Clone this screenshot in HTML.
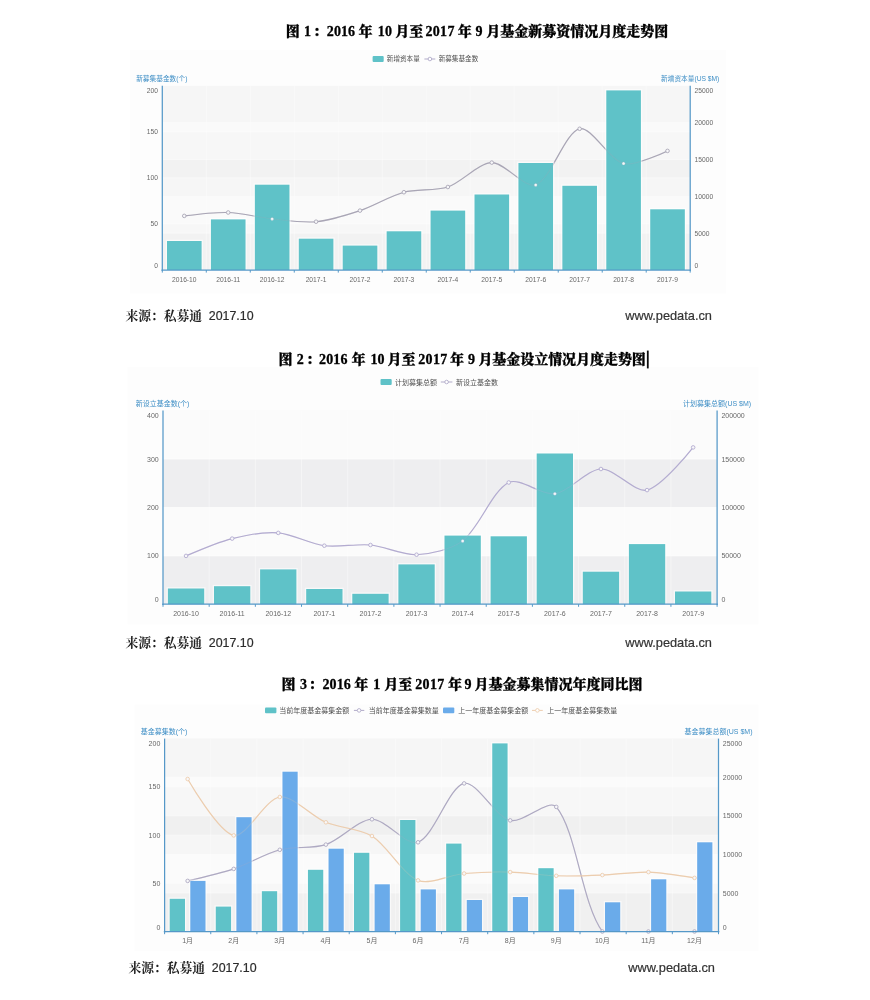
<!DOCTYPE html>
<html lang="zh-CN"><head><meta charset="utf-8"><title>基金募资情况走势图</title>
<style>
html,body{margin:0;padding:0;background:#fff;}
svg{display:block}
.ct{font-family:"Liberation Sans","Noto Sans CJK SC",sans-serif;}
.tt{font-family:"Liberation Serif","Noto Serif CJK SC",serif;font-weight:900;font-size:14px;fill:#000;stroke:#000;stroke-width:0.3px;white-space:pre;}
.ft{font-size:12.5px;fill:#222;}
.fc{font-family:"Liberation Serif","Noto Serif CJK SC",serif;font-weight:700;font-size:12.75px;}
.fl{font-family:"Liberation Sans","Noto Sans CJK SC",sans-serif;font-size:12.4px;fill:#2a2a2a;stroke:#2a2a2a;stroke-width:0.2px;}
.fw{font-family:"Liberation Sans","Noto Sans CJK SC",sans-serif;font-size:12.8px;fill:#333;stroke:#333;stroke-width:0.2px;}
</style></head><body>
<svg width="870" height="1000" viewBox="0 0 870 1000">
<defs><filter id="b" x="-2%" y="-2%" width="104%" height="104%"><feGaussianBlur stdDeviation="0.7"/></filter><filter id="b2" x="-2%" y="-2%" width="104%" height="104%"><feGaussianBlur stdDeviation="0.4"/></filter></defs>
<rect width="870" height="1000" fill="#fff"/>
<g filter="url(#b)">
<rect x="130.0" y="50.0" width="596.0" height="243.5" fill="#fdfdfd"/>
<rect x="162.3" y="85.8" width="527.9" height="184.2" fill="#f8f8f8"/>
<rect x="162.3" y="223.95" width="527.9" height="46.05" fill="rgba(190,190,194,0.05)"/>
<rect x="162.3" y="177.90" width="527.9" height="46.05" fill="rgba(255,255,255,0.20)"/>
<rect x="162.3" y="131.85" width="527.9" height="46.05" fill="rgba(190,190,194,0.05)"/>
<rect x="162.3" y="85.80" width="527.9" height="46.05" fill="rgba(255,255,255,0.20)"/>
<rect x="162.3" y="233.16" width="527.9" height="36.84" fill="rgba(190,190,194,0.05)"/>
<rect x="162.3" y="196.32" width="527.9" height="36.84" fill="rgba(255,255,255,0.20)"/>
<rect x="162.3" y="159.48" width="527.9" height="36.84" fill="rgba(190,190,194,0.05)"/>
<rect x="162.3" y="122.64" width="527.9" height="36.84" fill="rgba(255,255,255,0.20)"/>
<rect x="162.3" y="85.80" width="527.9" height="36.84" fill="rgba(190,190,194,0.05)"/>
<line x1="162.3" y1="223.95" x2="690.2" y2="223.95" stroke="#fff" stroke-opacity="0.55" stroke-width="0.8"/>
<line x1="162.3" y1="177.90" x2="690.2" y2="177.90" stroke="#fff" stroke-opacity="0.55" stroke-width="0.8"/>
<line x1="162.3" y1="131.85" x2="690.2" y2="131.85" stroke="#fff" stroke-opacity="0.55" stroke-width="0.8"/>
<line x1="162.3" y1="233.16" x2="690.2" y2="233.16" stroke="#fff" stroke-opacity="0.55" stroke-width="0.8"/>
<line x1="162.3" y1="196.32" x2="690.2" y2="196.32" stroke="#fff" stroke-opacity="0.55" stroke-width="0.8"/>
<line x1="162.3" y1="159.48" x2="690.2" y2="159.48" stroke="#fff" stroke-opacity="0.55" stroke-width="0.8"/>
<line x1="162.3" y1="122.64" x2="690.2" y2="122.64" stroke="#fff" stroke-opacity="0.55" stroke-width="0.8"/>
<line x1="206.29" y1="85.8" x2="206.29" y2="270.0" stroke="#fff" stroke-opacity="0.5" stroke-width="0.8"/>
<line x1="250.28" y1="85.8" x2="250.28" y2="270.0" stroke="#fff" stroke-opacity="0.5" stroke-width="0.8"/>
<line x1="294.28" y1="85.8" x2="294.28" y2="270.0" stroke="#fff" stroke-opacity="0.5" stroke-width="0.8"/>
<line x1="338.27" y1="85.8" x2="338.27" y2="270.0" stroke="#fff" stroke-opacity="0.5" stroke-width="0.8"/>
<line x1="382.26" y1="85.8" x2="382.26" y2="270.0" stroke="#fff" stroke-opacity="0.5" stroke-width="0.8"/>
<line x1="426.25" y1="85.8" x2="426.25" y2="270.0" stroke="#fff" stroke-opacity="0.5" stroke-width="0.8"/>
<line x1="470.24" y1="85.8" x2="470.24" y2="270.0" stroke="#fff" stroke-opacity="0.5" stroke-width="0.8"/>
<line x1="514.23" y1="85.8" x2="514.23" y2="270.0" stroke="#fff" stroke-opacity="0.5" stroke-width="0.8"/>
<line x1="558.23" y1="85.8" x2="558.23" y2="270.0" stroke="#fff" stroke-opacity="0.5" stroke-width="0.8"/>
<line x1="602.22" y1="85.8" x2="602.22" y2="270.0" stroke="#fff" stroke-opacity="0.5" stroke-width="0.8"/>
<line x1="646.21" y1="85.8" x2="646.21" y2="270.0" stroke="#fff" stroke-opacity="0.5" stroke-width="0.8"/>
<path d="M184.27 215.90 C184.27 215.90 215.07 212.05 228.19 212.50 C241.42 212.95 258.89 217.51 272.12 218.90 C285.25 220.27 303.07 222.93 316.06 221.70 C329.42 220.44 347.13 214.91 359.99 210.60 C373.49 206.06 390.25 195.87 403.92 192.20 C416.61 188.79 435.50 191.16 447.85 187.00 C461.86 182.28 478.47 162.92 491.78 162.60 C504.82 162.29 524.93 189.05 535.70 184.90 C551.29 178.91 564.87 132.40 579.63 128.80 C591.23 125.98 609.05 159.85 623.57 163.50 C635.41 166.48 667.50 150.90 667.50 150.90" fill="none" stroke="#a9a6b6" stroke-width="1.15"/>
<rect x="165.70" y="239.70" width="37.20" height="30.30" fill="#fff" fill-opacity="0.6"/>
<rect x="167.00" y="241.00" width="34.60" height="29.00" fill="#5ec2c8"/>
<rect x="209.63" y="218.10" width="37.20" height="51.90" fill="#fff" fill-opacity="0.6"/>
<rect x="210.93" y="219.40" width="34.60" height="50.60" fill="#5ec2c8"/>
<rect x="253.56" y="183.40" width="37.20" height="86.60" fill="#fff" fill-opacity="0.6"/>
<rect x="254.86" y="184.70" width="34.60" height="85.30" fill="#5ec2c8"/>
<rect x="297.49" y="237.40" width="37.20" height="32.60" fill="#fff" fill-opacity="0.6"/>
<rect x="298.79" y="238.70" width="34.60" height="31.30" fill="#5ec2c8"/>
<rect x="341.42" y="244.30" width="37.20" height="25.70" fill="#fff" fill-opacity="0.6"/>
<rect x="342.72" y="245.60" width="34.60" height="24.40" fill="#5ec2c8"/>
<rect x="385.35" y="230.00" width="37.20" height="40.00" fill="#fff" fill-opacity="0.6"/>
<rect x="386.65" y="231.30" width="34.60" height="38.70" fill="#5ec2c8"/>
<rect x="429.28" y="209.30" width="37.20" height="60.70" fill="#fff" fill-opacity="0.6"/>
<rect x="430.58" y="210.60" width="34.60" height="59.40" fill="#5ec2c8"/>
<rect x="473.21" y="193.20" width="37.20" height="76.80" fill="#fff" fill-opacity="0.6"/>
<rect x="474.51" y="194.50" width="34.60" height="75.50" fill="#5ec2c8"/>
<rect x="517.14" y="161.70" width="37.20" height="108.30" fill="#fff" fill-opacity="0.6"/>
<rect x="518.44" y="163.00" width="34.60" height="107.00" fill="#5ec2c8"/>
<rect x="561.07" y="184.50" width="37.20" height="85.50" fill="#fff" fill-opacity="0.6"/>
<rect x="562.37" y="185.80" width="34.60" height="84.20" fill="#5ec2c8"/>
<rect x="605.00" y="89.10" width="37.20" height="180.90" fill="#fff" fill-opacity="0.6"/>
<rect x="606.30" y="90.40" width="34.60" height="179.60" fill="#5ec2c8"/>
<rect x="648.93" y="208.00" width="37.20" height="62.00" fill="#fff" fill-opacity="0.6"/>
<rect x="650.23" y="209.30" width="34.60" height="60.70" fill="#5ec2c8"/>
<path d="M184.27 215.90 C184.27 215.90 215.07 212.05 228.19 212.50 C241.42 212.95 258.89 217.51 272.12 218.90 C285.25 220.27 303.07 222.93 316.06 221.70 C329.42 220.44 347.13 214.91 359.99 210.60 C373.49 206.06 390.25 195.87 403.92 192.20 C416.61 188.79 435.50 191.16 447.85 187.00 C461.86 182.28 478.47 162.92 491.78 162.60 C504.82 162.29 524.93 189.05 535.70 184.90 C551.29 178.91 564.87 132.40 579.63 128.80 C591.23 125.98 609.05 159.85 623.57 163.50 C635.41 166.48 667.50 150.90 667.50 150.90" fill="none" stroke="#a9a6b6" stroke-width="1.2" stroke-opacity="0.2"/>
<circle cx="184.27" cy="215.90" r="1.8" fill="#f7f7f9" stroke="#a9a6b6" stroke-width="0.9"/>
<circle cx="228.19" cy="212.50" r="1.8" fill="#f7f7f9" stroke="#a9a6b6" stroke-width="0.9"/>
<circle cx="272.12" cy="218.90" r="1.5" fill="#fff" fill-opacity="0.9" stroke="#a9a6b6" stroke-opacity="0.35" stroke-width="0.8"/>
<circle cx="316.06" cy="221.70" r="1.8" fill="#f7f7f9" stroke="#a9a6b6" stroke-width="0.9"/>
<circle cx="359.99" cy="210.60" r="1.8" fill="#f7f7f9" stroke="#a9a6b6" stroke-width="0.9"/>
<circle cx="403.92" cy="192.20" r="1.8" fill="#f7f7f9" stroke="#a9a6b6" stroke-width="0.9"/>
<circle cx="447.85" cy="187.00" r="1.8" fill="#f7f7f9" stroke="#a9a6b6" stroke-width="0.9"/>
<circle cx="491.78" cy="162.60" r="1.8" fill="#f7f7f9" stroke="#a9a6b6" stroke-width="0.9"/>
<circle cx="535.70" cy="184.90" r="1.5" fill="#fff" fill-opacity="0.9" stroke="#a9a6b6" stroke-opacity="0.35" stroke-width="0.8"/>
<circle cx="579.63" cy="128.80" r="1.8" fill="#f7f7f9" stroke="#a9a6b6" stroke-width="0.9"/>
<circle cx="623.57" cy="163.50" r="1.5" fill="#fff" fill-opacity="0.9" stroke="#a9a6b6" stroke-opacity="0.35" stroke-width="0.8"/>
<circle cx="667.50" cy="150.90" r="1.8" fill="#f7f7f9" stroke="#a9a6b6" stroke-width="0.9"/>
<line x1="162.30" y1="85.8" x2="162.30" y2="270.8" stroke="#5598c8" stroke-width="1.25"/>
<line x1="690.20" y1="85.8" x2="690.20" y2="270.8" stroke="#5598c8" stroke-width="1.25"/>
<line x1="161.50" y1="270.00" x2="691.00" y2="270.00" stroke="#5598c8" stroke-width="1.25"/>
<line x1="162.30" y1="270.0" x2="162.30" y2="272.6" stroke="#5598c8" stroke-width="1"/>
<line x1="206.29" y1="270.0" x2="206.29" y2="272.6" stroke="#5598c8" stroke-width="1"/>
<line x1="250.28" y1="270.0" x2="250.28" y2="272.6" stroke="#5598c8" stroke-width="1"/>
<line x1="294.28" y1="270.0" x2="294.28" y2="272.6" stroke="#5598c8" stroke-width="1"/>
<line x1="338.27" y1="270.0" x2="338.27" y2="272.6" stroke="#5598c8" stroke-width="1"/>
<line x1="382.26" y1="270.0" x2="382.26" y2="272.6" stroke="#5598c8" stroke-width="1"/>
<line x1="426.25" y1="270.0" x2="426.25" y2="272.6" stroke="#5598c8" stroke-width="1"/>
<line x1="470.24" y1="270.0" x2="470.24" y2="272.6" stroke="#5598c8" stroke-width="1"/>
<line x1="514.23" y1="270.0" x2="514.23" y2="272.6" stroke="#5598c8" stroke-width="1"/>
<line x1="558.23" y1="270.0" x2="558.23" y2="272.6" stroke="#5598c8" stroke-width="1"/>
<line x1="602.22" y1="270.0" x2="602.22" y2="272.6" stroke="#5598c8" stroke-width="1"/>
<line x1="646.21" y1="270.0" x2="646.21" y2="272.6" stroke="#5598c8" stroke-width="1"/>
<line x1="690.20" y1="270.0" x2="690.20" y2="272.6" stroke="#5598c8" stroke-width="1"/>
<text class="ct" x="184.27" y="281.8" font-size="6.7" text-anchor="middle" fill="#686868">2016-10</text>
<text class="ct" x="228.19" y="281.8" font-size="6.7" text-anchor="middle" fill="#686868">2016-11</text>
<text class="ct" x="272.12" y="281.8" font-size="6.7" text-anchor="middle" fill="#686868">2016-12</text>
<text class="ct" x="316.06" y="281.8" font-size="6.7" text-anchor="middle" fill="#686868">2017-1</text>
<text class="ct" x="359.99" y="281.8" font-size="6.7" text-anchor="middle" fill="#686868">2017-2</text>
<text class="ct" x="403.92" y="281.8" font-size="6.7" text-anchor="middle" fill="#686868">2017-3</text>
<text class="ct" x="447.85" y="281.8" font-size="6.7" text-anchor="middle" fill="#686868">2017-4</text>
<text class="ct" x="491.78" y="281.8" font-size="6.7" text-anchor="middle" fill="#686868">2017-5</text>
<text class="ct" x="535.70" y="281.8" font-size="6.7" text-anchor="middle" fill="#686868">2017-6</text>
<text class="ct" x="579.63" y="281.8" font-size="6.7" text-anchor="middle" fill="#686868">2017-7</text>
<text class="ct" x="623.57" y="281.8" font-size="6.7" text-anchor="middle" fill="#686868">2017-8</text>
<text class="ct" x="667.50" y="281.8" font-size="6.7" text-anchor="middle" fill="#686868">2017-9</text>
<text class="ct" x="158.00" y="267.81" font-size="6.7" text-anchor="end" fill="#686868">0</text>
<text class="ct" x="158.00" y="226.36" font-size="6.7" text-anchor="end" fill="#686868">50</text>
<text class="ct" x="158.00" y="180.31" font-size="6.7" text-anchor="end" fill="#686868">100</text>
<text class="ct" x="158.00" y="134.26" font-size="6.7" text-anchor="end" fill="#686868">150</text>
<text class="ct" x="158.00" y="93.21" font-size="6.7" text-anchor="end" fill="#686868">200</text>
<text class="ct" x="694.50" y="267.81" font-size="6.7" text-anchor="start" fill="#686868">0</text>
<text class="ct" x="694.50" y="235.57" font-size="6.7" text-anchor="start" fill="#686868">5000</text>
<text class="ct" x="694.50" y="198.73" font-size="6.7" text-anchor="start" fill="#686868">10000</text>
<text class="ct" x="694.50" y="161.89" font-size="6.7" text-anchor="start" fill="#686868">15000</text>
<text class="ct" x="694.50" y="125.05" font-size="6.7" text-anchor="start" fill="#686868">20000</text>
<text class="ct" x="694.50" y="93.21" font-size="6.7" text-anchor="start" fill="#686868">25000</text>
<text class="ct" x="161.80" y="81.00" font-size="6.7" text-anchor="middle" fill="#3f8fc6">新募集基金数(个)</text>
<text class="ct" x="690.20" y="81.00" font-size="6.7" text-anchor="middle" fill="#3f8fc6">新增资本量(US $M)</text>
<rect x="372.6" y="56.1" width="11.1" height="5.8" rx="1" fill="#5ec2c8"/>
<text class="ct" x="386.8" y="61.41" font-size="6.6" fill="#505050">新增资本量</text>
<line x1="424.4" y1="59.0" x2="435.3" y2="59.0" stroke="#b1abc9" stroke-width="1"/>
<circle cx="429.9" cy="59.0" r="1.8" fill="#fff" stroke="#b1abc9" stroke-width="0.9"/>
<text class="ct" x="438.7" y="61.41" font-size="6.6" fill="#505050">新募集基金数</text>
<rect x="127.5" y="367.0" width="631.0" height="257.5" fill="#fdfdfd"/>
<rect x="163.0" y="410.6" width="554.1" height="193.6" fill="#f8f8f8"/>
<rect x="163.0" y="555.80" width="554.1" height="48.40" fill="rgba(190,190,194,0.07)"/>
<rect x="163.0" y="507.40" width="554.1" height="48.40" fill="rgba(255,255,255,0.30)"/>
<rect x="163.0" y="459.00" width="554.1" height="48.40" fill="rgba(190,190,194,0.07)"/>
<rect x="163.0" y="410.60" width="554.1" height="48.40" fill="rgba(255,255,255,0.30)"/>
<rect x="163.0" y="555.80" width="554.1" height="48.40" fill="rgba(190,190,194,0.07)"/>
<rect x="163.0" y="507.40" width="554.1" height="48.40" fill="rgba(255,255,255,0.30)"/>
<rect x="163.0" y="459.00" width="554.1" height="48.40" fill="rgba(190,190,194,0.07)"/>
<rect x="163.0" y="410.60" width="554.1" height="48.40" fill="rgba(255,255,255,0.30)"/>
<line x1="163.0" y1="555.80" x2="717.1" y2="555.80" stroke="#fff" stroke-opacity="0.55" stroke-width="0.8"/>
<line x1="163.0" y1="507.40" x2="717.1" y2="507.40" stroke="#fff" stroke-opacity="0.55" stroke-width="0.8"/>
<line x1="163.0" y1="459.00" x2="717.1" y2="459.00" stroke="#fff" stroke-opacity="0.55" stroke-width="0.8"/>
<line x1="163.0" y1="555.80" x2="717.1" y2="555.80" stroke="#fff" stroke-opacity="0.55" stroke-width="0.8"/>
<line x1="163.0" y1="507.40" x2="717.1" y2="507.40" stroke="#fff" stroke-opacity="0.55" stroke-width="0.8"/>
<line x1="163.0" y1="459.00" x2="717.1" y2="459.00" stroke="#fff" stroke-opacity="0.55" stroke-width="0.8"/>
<line x1="209.18" y1="410.6" x2="209.18" y2="604.2" stroke="#fff" stroke-opacity="0.5" stroke-width="0.8"/>
<line x1="255.35" y1="410.6" x2="255.35" y2="604.2" stroke="#fff" stroke-opacity="0.5" stroke-width="0.8"/>
<line x1="301.52" y1="410.6" x2="301.52" y2="604.2" stroke="#fff" stroke-opacity="0.5" stroke-width="0.8"/>
<line x1="347.70" y1="410.6" x2="347.70" y2="604.2" stroke="#fff" stroke-opacity="0.5" stroke-width="0.8"/>
<line x1="393.88" y1="410.6" x2="393.88" y2="604.2" stroke="#fff" stroke-opacity="0.5" stroke-width="0.8"/>
<line x1="440.05" y1="410.6" x2="440.05" y2="604.2" stroke="#fff" stroke-opacity="0.5" stroke-width="0.8"/>
<line x1="486.23" y1="410.6" x2="486.23" y2="604.2" stroke="#fff" stroke-opacity="0.5" stroke-width="0.8"/>
<line x1="532.40" y1="410.6" x2="532.40" y2="604.2" stroke="#fff" stroke-opacity="0.5" stroke-width="0.8"/>
<line x1="578.58" y1="410.6" x2="578.58" y2="604.2" stroke="#fff" stroke-opacity="0.5" stroke-width="0.8"/>
<line x1="624.75" y1="410.6" x2="624.75" y2="604.2" stroke="#fff" stroke-opacity="0.5" stroke-width="0.8"/>
<line x1="670.93" y1="410.6" x2="670.93" y2="604.2" stroke="#fff" stroke-opacity="0.5" stroke-width="0.8"/>
<path d="M186.05 555.90 C186.05 555.90 217.92 542.15 232.15 538.60 C245.58 535.25 264.62 531.85 278.25 532.90 C292.28 533.98 310.26 543.85 324.35 545.70 C337.92 547.48 356.77 543.66 370.45 545.00 C384.43 546.36 402.87 555.31 416.55 554.70 C430.53 554.08 451.79 549.41 462.65 540.90 C479.45 527.75 491.86 491.13 508.75 482.50 C519.52 477.00 541.70 495.73 554.85 493.80 C569.36 491.68 586.90 469.56 600.95 469.00 C614.56 468.45 634.70 492.99 647.05 490.10 C662.36 486.51 693.15 447.40 693.15 447.40" fill="none" stroke="#b3acd0" stroke-width="1.15"/>
<rect x="166.60" y="587.20" width="38.90" height="17.00" fill="#fff" fill-opacity="0.6"/>
<rect x="167.90" y="588.50" width="36.30" height="15.70" fill="#5ec2c8"/>
<rect x="212.70" y="584.90" width="38.90" height="19.30" fill="#fff" fill-opacity="0.6"/>
<rect x="214.00" y="586.20" width="36.30" height="18.00" fill="#5ec2c8"/>
<rect x="258.80" y="568.10" width="38.90" height="36.10" fill="#fff" fill-opacity="0.6"/>
<rect x="260.10" y="569.40" width="36.30" height="34.80" fill="#5ec2c8"/>
<rect x="304.90" y="587.70" width="38.90" height="16.50" fill="#fff" fill-opacity="0.6"/>
<rect x="306.20" y="589.00" width="36.30" height="15.20" fill="#5ec2c8"/>
<rect x="351.00" y="592.50" width="38.90" height="11.70" fill="#fff" fill-opacity="0.6"/>
<rect x="352.30" y="593.80" width="36.30" height="10.40" fill="#5ec2c8"/>
<rect x="397.10" y="563.10" width="38.90" height="41.10" fill="#fff" fill-opacity="0.6"/>
<rect x="398.40" y="564.40" width="36.30" height="39.80" fill="#5ec2c8"/>
<rect x="443.20" y="534.30" width="38.90" height="69.90" fill="#fff" fill-opacity="0.6"/>
<rect x="444.50" y="535.60" width="36.30" height="68.60" fill="#5ec2c8"/>
<rect x="489.30" y="535.00" width="38.90" height="69.20" fill="#fff" fill-opacity="0.6"/>
<rect x="490.60" y="536.30" width="36.30" height="67.90" fill="#5ec2c8"/>
<rect x="535.40" y="452.20" width="38.90" height="152.00" fill="#fff" fill-opacity="0.6"/>
<rect x="536.70" y="453.50" width="36.30" height="150.70" fill="#5ec2c8"/>
<rect x="581.50" y="570.40" width="38.90" height="33.80" fill="#fff" fill-opacity="0.6"/>
<rect x="582.80" y="571.70" width="36.30" height="32.50" fill="#5ec2c8"/>
<rect x="627.60" y="542.80" width="38.90" height="61.40" fill="#fff" fill-opacity="0.6"/>
<rect x="628.90" y="544.10" width="36.30" height="60.10" fill="#5ec2c8"/>
<rect x="673.70" y="590.20" width="38.90" height="14.00" fill="#fff" fill-opacity="0.6"/>
<rect x="675.00" y="591.50" width="36.30" height="12.70" fill="#5ec2c8"/>
<path d="M186.05 555.90 C186.05 555.90 217.92 542.15 232.15 538.60 C245.58 535.25 264.62 531.85 278.25 532.90 C292.28 533.98 310.26 543.85 324.35 545.70 C337.92 547.48 356.77 543.66 370.45 545.00 C384.43 546.36 402.87 555.31 416.55 554.70 C430.53 554.08 451.79 549.41 462.65 540.90 C479.45 527.75 491.86 491.13 508.75 482.50 C519.52 477.00 541.70 495.73 554.85 493.80 C569.36 491.68 586.90 469.56 600.95 469.00 C614.56 468.45 634.70 492.99 647.05 490.10 C662.36 486.51 693.15 447.40 693.15 447.40" fill="none" stroke="#b3acd0" stroke-width="1.2" stroke-opacity="0.2"/>
<circle cx="186.05" cy="555.90" r="1.8" fill="#f7f7f9" stroke="#b3acd0" stroke-width="0.9"/>
<circle cx="232.15" cy="538.60" r="1.8" fill="#f7f7f9" stroke="#b3acd0" stroke-width="0.9"/>
<circle cx="278.25" cy="532.90" r="1.8" fill="#f7f7f9" stroke="#b3acd0" stroke-width="0.9"/>
<circle cx="324.35" cy="545.70" r="1.8" fill="#f7f7f9" stroke="#b3acd0" stroke-width="0.9"/>
<circle cx="370.45" cy="545.00" r="1.8" fill="#f7f7f9" stroke="#b3acd0" stroke-width="0.9"/>
<circle cx="416.55" cy="554.70" r="1.8" fill="#f7f7f9" stroke="#b3acd0" stroke-width="0.9"/>
<circle cx="462.65" cy="540.90" r="1.5" fill="#fff" fill-opacity="0.9" stroke="#b3acd0" stroke-opacity="0.35" stroke-width="0.8"/>
<circle cx="508.75" cy="482.50" r="1.8" fill="#f7f7f9" stroke="#b3acd0" stroke-width="0.9"/>
<circle cx="554.85" cy="493.80" r="1.5" fill="#fff" fill-opacity="0.9" stroke="#b3acd0" stroke-opacity="0.35" stroke-width="0.8"/>
<circle cx="600.95" cy="469.00" r="1.8" fill="#f7f7f9" stroke="#b3acd0" stroke-width="0.9"/>
<circle cx="647.05" cy="490.10" r="1.8" fill="#f7f7f9" stroke="#b3acd0" stroke-width="0.9"/>
<circle cx="693.15" cy="447.40" r="1.8" fill="#f7f7f9" stroke="#b3acd0" stroke-width="0.9"/>
<line x1="163.00" y1="410.6" x2="163.00" y2="605.0" stroke="#5598c8" stroke-width="1.25"/>
<line x1="717.10" y1="410.6" x2="717.10" y2="605.0" stroke="#5598c8" stroke-width="1.25"/>
<line x1="162.20" y1="604.20" x2="717.90" y2="604.20" stroke="#5598c8" stroke-width="1.25"/>
<line x1="163.00" y1="604.2" x2="163.00" y2="606.8" stroke="#5598c8" stroke-width="1"/>
<line x1="209.18" y1="604.2" x2="209.18" y2="606.8" stroke="#5598c8" stroke-width="1"/>
<line x1="255.35" y1="604.2" x2="255.35" y2="606.8" stroke="#5598c8" stroke-width="1"/>
<line x1="301.52" y1="604.2" x2="301.52" y2="606.8" stroke="#5598c8" stroke-width="1"/>
<line x1="347.70" y1="604.2" x2="347.70" y2="606.8" stroke="#5598c8" stroke-width="1"/>
<line x1="393.88" y1="604.2" x2="393.88" y2="606.8" stroke="#5598c8" stroke-width="1"/>
<line x1="440.05" y1="604.2" x2="440.05" y2="606.8" stroke="#5598c8" stroke-width="1"/>
<line x1="486.23" y1="604.2" x2="486.23" y2="606.8" stroke="#5598c8" stroke-width="1"/>
<line x1="532.40" y1="604.2" x2="532.40" y2="606.8" stroke="#5598c8" stroke-width="1"/>
<line x1="578.58" y1="604.2" x2="578.58" y2="606.8" stroke="#5598c8" stroke-width="1"/>
<line x1="624.75" y1="604.2" x2="624.75" y2="606.8" stroke="#5598c8" stroke-width="1"/>
<line x1="670.93" y1="604.2" x2="670.93" y2="606.8" stroke="#5598c8" stroke-width="1"/>
<line x1="717.10" y1="604.2" x2="717.10" y2="606.8" stroke="#5598c8" stroke-width="1"/>
<text class="ct" x="186.05" y="616.0" font-size="7.0" text-anchor="middle" fill="#686868">2016-10</text>
<text class="ct" x="232.15" y="616.0" font-size="7.0" text-anchor="middle" fill="#686868">2016-11</text>
<text class="ct" x="278.25" y="616.0" font-size="7.0" text-anchor="middle" fill="#686868">2016-12</text>
<text class="ct" x="324.35" y="616.0" font-size="7.0" text-anchor="middle" fill="#686868">2017-1</text>
<text class="ct" x="370.45" y="616.0" font-size="7.0" text-anchor="middle" fill="#686868">2017-2</text>
<text class="ct" x="416.55" y="616.0" font-size="7.0" text-anchor="middle" fill="#686868">2017-3</text>
<text class="ct" x="462.65" y="616.0" font-size="7.0" text-anchor="middle" fill="#686868">2017-4</text>
<text class="ct" x="508.75" y="616.0" font-size="7.0" text-anchor="middle" fill="#686868">2017-5</text>
<text class="ct" x="554.85" y="616.0" font-size="7.0" text-anchor="middle" fill="#686868">2017-6</text>
<text class="ct" x="600.95" y="616.0" font-size="7.0" text-anchor="middle" fill="#686868">2017-7</text>
<text class="ct" x="647.05" y="616.0" font-size="7.0" text-anchor="middle" fill="#686868">2017-8</text>
<text class="ct" x="693.15" y="616.0" font-size="7.0" text-anchor="middle" fill="#686868">2017-9</text>
<text class="ct" x="158.70" y="602.12" font-size="7.0" text-anchor="end" fill="#686868">0</text>
<text class="ct" x="158.70" y="558.32" font-size="7.0" text-anchor="end" fill="#686868">100</text>
<text class="ct" x="158.70" y="509.92" font-size="7.0" text-anchor="end" fill="#686868">200</text>
<text class="ct" x="158.70" y="461.52" font-size="7.0" text-anchor="end" fill="#686868">300</text>
<text class="ct" x="158.70" y="418.12" font-size="7.0" text-anchor="end" fill="#686868">400</text>
<text class="ct" x="721.40" y="602.12" font-size="7.0" text-anchor="start" fill="#686868">0</text>
<text class="ct" x="721.40" y="558.32" font-size="7.0" text-anchor="start" fill="#686868">50000</text>
<text class="ct" x="721.40" y="509.92" font-size="7.0" text-anchor="start" fill="#686868">100000</text>
<text class="ct" x="721.40" y="461.52" font-size="7.0" text-anchor="start" fill="#686868">150000</text>
<text class="ct" x="721.40" y="418.12" font-size="7.0" text-anchor="start" fill="#686868">200000</text>
<text class="ct" x="162.50" y="405.80" font-size="7.0" text-anchor="middle" fill="#3f8fc6">新设立基金数(个)</text>
<text class="ct" x="717.10" y="405.80" font-size="7.0" text-anchor="middle" fill="#3f8fc6">计划募集总额(US $M)</text>
<rect x="380.5" y="379.1" width="11.2" height="5.8" rx="1" fill="#5ec2c8"/>
<text class="ct" x="395.1" y="384.52" font-size="7.0" fill="#505050">计划募集总额</text>
<line x1="440.8" y1="382.0" x2="452.4" y2="382.0" stroke="#b1abc9" stroke-width="1"/>
<circle cx="446.6" cy="382.0" r="1.8" fill="#fff" stroke="#b1abc9" stroke-width="0.9"/>
<text class="ct" x="455.9" y="384.52" font-size="7.0" fill="#505050">新设立基金数</text>
<rect x="134.5" y="704.5" width="624.0" height="246.2" fill="#fdfdfd"/>
<rect x="164.6" y="738.6" width="553.9" height="193.0" fill="#f8f8f8"/>
<rect x="164.6" y="883.35" width="553.9" height="48.25" fill="rgba(190,190,194,0.06)"/>
<rect x="164.6" y="835.10" width="553.9" height="48.25" fill="rgba(255,255,255,0.25)"/>
<rect x="164.6" y="786.85" width="553.9" height="48.25" fill="rgba(190,190,194,0.06)"/>
<rect x="164.6" y="738.60" width="553.9" height="48.25" fill="rgba(255,255,255,0.25)"/>
<rect x="164.6" y="893.00" width="553.9" height="38.60" fill="rgba(190,190,194,0.06)"/>
<rect x="164.6" y="854.40" width="553.9" height="38.60" fill="rgba(255,255,255,0.25)"/>
<rect x="164.6" y="815.80" width="553.9" height="38.60" fill="rgba(190,190,194,0.06)"/>
<rect x="164.6" y="777.20" width="553.9" height="38.60" fill="rgba(255,255,255,0.25)"/>
<rect x="164.6" y="738.60" width="553.9" height="38.60" fill="rgba(190,190,194,0.06)"/>
<line x1="164.6" y1="883.35" x2="718.5" y2="883.35" stroke="#fff" stroke-opacity="0.55" stroke-width="0.8"/>
<line x1="164.6" y1="835.10" x2="718.5" y2="835.10" stroke="#fff" stroke-opacity="0.55" stroke-width="0.8"/>
<line x1="164.6" y1="786.85" x2="718.5" y2="786.85" stroke="#fff" stroke-opacity="0.55" stroke-width="0.8"/>
<line x1="164.6" y1="893.00" x2="718.5" y2="893.00" stroke="#fff" stroke-opacity="0.55" stroke-width="0.8"/>
<line x1="164.6" y1="854.40" x2="718.5" y2="854.40" stroke="#fff" stroke-opacity="0.55" stroke-width="0.8"/>
<line x1="164.6" y1="815.80" x2="718.5" y2="815.80" stroke="#fff" stroke-opacity="0.55" stroke-width="0.8"/>
<line x1="164.6" y1="777.20" x2="718.5" y2="777.20" stroke="#fff" stroke-opacity="0.55" stroke-width="0.8"/>
<line x1="210.76" y1="738.6" x2="210.76" y2="931.6" stroke="#fff" stroke-opacity="0.5" stroke-width="0.8"/>
<line x1="256.92" y1="738.6" x2="256.92" y2="931.6" stroke="#fff" stroke-opacity="0.5" stroke-width="0.8"/>
<line x1="303.07" y1="738.6" x2="303.07" y2="931.6" stroke="#fff" stroke-opacity="0.5" stroke-width="0.8"/>
<line x1="349.23" y1="738.6" x2="349.23" y2="931.6" stroke="#fff" stroke-opacity="0.5" stroke-width="0.8"/>
<line x1="395.39" y1="738.6" x2="395.39" y2="931.6" stroke="#fff" stroke-opacity="0.5" stroke-width="0.8"/>
<line x1="441.55" y1="738.6" x2="441.55" y2="931.6" stroke="#fff" stroke-opacity="0.5" stroke-width="0.8"/>
<line x1="487.71" y1="738.6" x2="487.71" y2="931.6" stroke="#fff" stroke-opacity="0.5" stroke-width="0.8"/>
<line x1="533.87" y1="738.6" x2="533.87" y2="931.6" stroke="#fff" stroke-opacity="0.5" stroke-width="0.8"/>
<line x1="580.02" y1="738.6" x2="580.02" y2="931.6" stroke="#fff" stroke-opacity="0.5" stroke-width="0.8"/>
<line x1="626.18" y1="738.6" x2="626.18" y2="931.6" stroke="#fff" stroke-opacity="0.5" stroke-width="0.8"/>
<line x1="672.34" y1="738.6" x2="672.34" y2="931.6" stroke="#fff" stroke-opacity="0.5" stroke-width="0.8"/>
<path d="M187.64 880.90 C187.64 880.90 220.22 873.46 233.72 868.90 C247.87 864.13 265.47 853.58 279.80 849.80 C293.12 846.29 312.92 848.89 325.88 844.60 C340.57 839.74 357.99 819.65 371.96 819.30 C385.64 818.96 406.76 846.69 418.04 842.30 C434.41 835.92 448.68 787.07 464.12 783.40 C476.32 780.50 494.95 816.51 510.20 820.40 C522.59 823.56 548.94 798.05 556.28 806.90 C576.59 831.38 581.83 903.75 602.36 931.50 C609.48 931.60 634.62 931.50 648.44 931.50 C662.26 931.50 694.52 931.50 694.52 931.50" fill="none" stroke="#aea9c2" stroke-width="1.15"/>
<path d="M187.64 779.00 C187.64 779.00 218.56 832.44 233.72 835.40 C246.21 837.84 265.07 799.09 279.80 797.00 C292.71 795.16 311.44 816.19 325.88 822.30 C339.09 827.89 360.10 828.52 371.96 836.00 C387.75 845.95 402.04 873.89 418.04 880.40 C429.69 885.14 450.22 874.75 464.12 873.50 C477.87 872.26 496.40 871.76 510.20 872.10 C524.04 872.45 542.43 875.35 556.28 875.80 C570.08 876.25 588.55 875.65 602.36 875.10 C616.20 874.54 634.66 871.68 648.44 872.10 C662.30 872.52 694.52 877.90 694.52 877.90" fill="none" stroke="#edcdae" stroke-width="1.15"/>
<rect x="168.40" y="897.50" width="17.90" height="34.10" fill="#fff" fill-opacity="0.6"/>
<rect x="169.70" y="898.80" width="15.30" height="32.80" fill="#5ec2c8"/>
<rect x="214.48" y="905.30" width="17.90" height="26.30" fill="#fff" fill-opacity="0.6"/>
<rect x="215.78" y="906.60" width="15.30" height="25.00" fill="#5ec2c8"/>
<rect x="260.56" y="889.90" width="17.90" height="41.70" fill="#fff" fill-opacity="0.6"/>
<rect x="261.86" y="891.20" width="15.30" height="40.40" fill="#5ec2c8"/>
<rect x="306.64" y="868.50" width="17.90" height="63.10" fill="#fff" fill-opacity="0.6"/>
<rect x="307.94" y="869.80" width="15.30" height="61.80" fill="#5ec2c8"/>
<rect x="352.72" y="851.50" width="17.90" height="80.10" fill="#fff" fill-opacity="0.6"/>
<rect x="354.02" y="852.80" width="15.30" height="78.80" fill="#5ec2c8"/>
<rect x="398.80" y="818.70" width="17.90" height="112.90" fill="#fff" fill-opacity="0.6"/>
<rect x="400.10" y="820.00" width="15.30" height="111.60" fill="#5ec2c8"/>
<rect x="444.88" y="842.30" width="17.90" height="89.30" fill="#fff" fill-opacity="0.6"/>
<rect x="446.18" y="843.60" width="15.30" height="88.00" fill="#5ec2c8"/>
<rect x="490.96" y="742.10" width="17.90" height="189.50" fill="#fff" fill-opacity="0.6"/>
<rect x="492.26" y="743.40" width="15.30" height="188.20" fill="#5ec2c8"/>
<rect x="537.04" y="866.90" width="17.90" height="64.70" fill="#fff" fill-opacity="0.6"/>
<rect x="538.34" y="868.20" width="15.30" height="63.40" fill="#5ec2c8"/>
<rect x="189.00" y="879.60" width="17.80" height="52.00" fill="#fff" fill-opacity="0.6"/>
<rect x="190.30" y="880.90" width="15.20" height="50.70" fill="#6aabea"/>
<rect x="235.08" y="815.90" width="17.80" height="115.70" fill="#fff" fill-opacity="0.6"/>
<rect x="236.38" y="817.20" width="15.20" height="114.40" fill="#6aabea"/>
<rect x="281.16" y="770.40" width="17.80" height="161.20" fill="#fff" fill-opacity="0.6"/>
<rect x="282.46" y="771.70" width="15.20" height="159.90" fill="#6aabea"/>
<rect x="327.24" y="847.40" width="17.80" height="84.20" fill="#fff" fill-opacity="0.6"/>
<rect x="328.54" y="848.70" width="15.20" height="82.90" fill="#6aabea"/>
<rect x="373.32" y="883.00" width="17.80" height="48.60" fill="#fff" fill-opacity="0.6"/>
<rect x="374.62" y="884.30" width="15.20" height="47.30" fill="#6aabea"/>
<rect x="419.40" y="888.10" width="17.80" height="43.50" fill="#fff" fill-opacity="0.6"/>
<rect x="420.70" y="889.40" width="15.20" height="42.20" fill="#6aabea"/>
<rect x="465.48" y="898.70" width="17.80" height="32.90" fill="#fff" fill-opacity="0.6"/>
<rect x="466.78" y="900.00" width="15.20" height="31.60" fill="#6aabea"/>
<rect x="511.56" y="895.70" width="17.80" height="35.90" fill="#fff" fill-opacity="0.6"/>
<rect x="512.86" y="897.00" width="15.20" height="34.60" fill="#6aabea"/>
<rect x="557.64" y="888.10" width="17.80" height="43.50" fill="#fff" fill-opacity="0.6"/>
<rect x="558.94" y="889.40" width="15.20" height="42.20" fill="#6aabea"/>
<rect x="603.72" y="901.00" width="17.80" height="30.60" fill="#fff" fill-opacity="0.6"/>
<rect x="605.02" y="902.30" width="15.20" height="29.30" fill="#6aabea"/>
<rect x="649.80" y="878.00" width="17.80" height="53.60" fill="#fff" fill-opacity="0.6"/>
<rect x="651.10" y="879.30" width="15.20" height="52.30" fill="#6aabea"/>
<rect x="695.88" y="841.00" width="17.80" height="90.60" fill="#fff" fill-opacity="0.6"/>
<rect x="697.18" y="842.30" width="15.20" height="89.30" fill="#6aabea"/>
<path d="M187.64 880.90 C187.64 880.90 220.22 873.46 233.72 868.90 C247.87 864.13 265.47 853.58 279.80 849.80 C293.12 846.29 312.92 848.89 325.88 844.60 C340.57 839.74 357.99 819.65 371.96 819.30 C385.64 818.96 406.76 846.69 418.04 842.30 C434.41 835.92 448.68 787.07 464.12 783.40 C476.32 780.50 494.95 816.51 510.20 820.40 C522.59 823.56 548.94 798.05 556.28 806.90 C576.59 831.38 581.83 903.75 602.36 931.50 C609.48 931.60 634.62 931.50 648.44 931.50 C662.26 931.50 694.52 931.50 694.52 931.50" fill="none" stroke="#aea9c2" stroke-width="1.2" stroke-opacity="0.2"/>
<circle cx="187.64" cy="880.90" r="1.8" fill="#f7f7f9" stroke="#aea9c2" stroke-width="0.9"/>
<circle cx="233.72" cy="868.90" r="1.8" fill="#f7f7f9" stroke="#aea9c2" stroke-width="0.9"/>
<circle cx="279.80" cy="849.80" r="1.8" fill="#f7f7f9" stroke="#aea9c2" stroke-width="0.9"/>
<circle cx="325.88" cy="844.60" r="1.8" fill="#f7f7f9" stroke="#aea9c2" stroke-width="0.9"/>
<circle cx="371.96" cy="819.30" r="1.8" fill="#f7f7f9" stroke="#aea9c2" stroke-width="0.9"/>
<circle cx="418.04" cy="842.30" r="1.8" fill="#f7f7f9" stroke="#aea9c2" stroke-width="0.9"/>
<circle cx="464.12" cy="783.40" r="1.8" fill="#f7f7f9" stroke="#aea9c2" stroke-width="0.9"/>
<circle cx="510.20" cy="820.40" r="1.8" fill="#f7f7f9" stroke="#aea9c2" stroke-width="0.9"/>
<circle cx="556.28" cy="806.90" r="1.8" fill="#f7f7f9" stroke="#aea9c2" stroke-width="0.9"/>
<circle cx="602.36" cy="931.50" r="1.8" fill="#f7f7f9" stroke="#aea9c2" stroke-width="0.9"/>
<circle cx="648.44" cy="931.50" r="1.8" fill="#f7f7f9" stroke="#aea9c2" stroke-width="0.9"/>
<circle cx="694.52" cy="931.50" r="1.8" fill="#f7f7f9" stroke="#aea9c2" stroke-width="0.9"/>
<path d="M187.64 779.00 C187.64 779.00 218.56 832.44 233.72 835.40 C246.21 837.84 265.07 799.09 279.80 797.00 C292.71 795.16 311.44 816.19 325.88 822.30 C339.09 827.89 360.10 828.52 371.96 836.00 C387.75 845.95 402.04 873.89 418.04 880.40 C429.69 885.14 450.22 874.75 464.12 873.50 C477.87 872.26 496.40 871.76 510.20 872.10 C524.04 872.45 542.43 875.35 556.28 875.80 C570.08 876.25 588.55 875.65 602.36 875.10 C616.20 874.54 634.66 871.68 648.44 872.10 C662.30 872.52 694.52 877.90 694.52 877.90" fill="none" stroke="#edcdae" stroke-width="1.2" stroke-opacity="0.2"/>
<circle cx="187.64" cy="779.00" r="1.8" fill="#f7f7f9" stroke="#edcdae" stroke-width="0.9"/>
<circle cx="233.72" cy="835.40" r="1.8" fill="#f7f7f9" stroke="#edcdae" stroke-width="0.9"/>
<circle cx="279.80" cy="797.00" r="1.8" fill="#f7f7f9" stroke="#edcdae" stroke-width="0.9"/>
<circle cx="325.88" cy="822.30" r="1.8" fill="#f7f7f9" stroke="#edcdae" stroke-width="0.9"/>
<circle cx="371.96" cy="836.00" r="1.8" fill="#f7f7f9" stroke="#edcdae" stroke-width="0.9"/>
<circle cx="418.04" cy="880.40" r="1.8" fill="#f7f7f9" stroke="#edcdae" stroke-width="0.9"/>
<circle cx="464.12" cy="873.50" r="1.8" fill="#f7f7f9" stroke="#edcdae" stroke-width="0.9"/>
<circle cx="510.20" cy="872.10" r="1.8" fill="#f7f7f9" stroke="#edcdae" stroke-width="0.9"/>
<circle cx="556.28" cy="875.80" r="1.8" fill="#f7f7f9" stroke="#edcdae" stroke-width="0.9"/>
<circle cx="602.36" cy="875.10" r="1.8" fill="#f7f7f9" stroke="#edcdae" stroke-width="0.9"/>
<circle cx="648.44" cy="872.10" r="1.8" fill="#f7f7f9" stroke="#edcdae" stroke-width="0.9"/>
<circle cx="694.52" cy="877.90" r="1.8" fill="#f7f7f9" stroke="#edcdae" stroke-width="0.9"/>
<line x1="164.60" y1="738.6" x2="164.60" y2="932.4" stroke="#5598c8" stroke-width="1.25"/>
<line x1="718.50" y1="738.6" x2="718.50" y2="932.4" stroke="#5598c8" stroke-width="1.25"/>
<line x1="163.80" y1="931.60" x2="719.30" y2="931.60" stroke="#5598c8" stroke-width="1.25"/>
<line x1="164.60" y1="931.6" x2="164.60" y2="934.2" stroke="#5598c8" stroke-width="1"/>
<line x1="210.76" y1="931.6" x2="210.76" y2="934.2" stroke="#5598c8" stroke-width="1"/>
<line x1="256.92" y1="931.6" x2="256.92" y2="934.2" stroke="#5598c8" stroke-width="1"/>
<line x1="303.07" y1="931.6" x2="303.07" y2="934.2" stroke="#5598c8" stroke-width="1"/>
<line x1="349.23" y1="931.6" x2="349.23" y2="934.2" stroke="#5598c8" stroke-width="1"/>
<line x1="395.39" y1="931.6" x2="395.39" y2="934.2" stroke="#5598c8" stroke-width="1"/>
<line x1="441.55" y1="931.6" x2="441.55" y2="934.2" stroke="#5598c8" stroke-width="1"/>
<line x1="487.71" y1="931.6" x2="487.71" y2="934.2" stroke="#5598c8" stroke-width="1"/>
<line x1="533.87" y1="931.6" x2="533.87" y2="934.2" stroke="#5598c8" stroke-width="1"/>
<line x1="580.02" y1="931.6" x2="580.02" y2="934.2" stroke="#5598c8" stroke-width="1"/>
<line x1="626.18" y1="931.6" x2="626.18" y2="934.2" stroke="#5598c8" stroke-width="1"/>
<line x1="672.34" y1="931.6" x2="672.34" y2="934.2" stroke="#5598c8" stroke-width="1"/>
<line x1="718.50" y1="931.6" x2="718.50" y2="934.2" stroke="#5598c8" stroke-width="1"/>
<text class="ct" x="187.64" y="943.2" font-size="7.0" text-anchor="middle" fill="#686868">1月</text>
<text class="ct" x="233.72" y="943.2" font-size="7.0" text-anchor="middle" fill="#686868">2月</text>
<text class="ct" x="279.80" y="943.2" font-size="7.0" text-anchor="middle" fill="#686868">3月</text>
<text class="ct" x="325.88" y="943.2" font-size="7.0" text-anchor="middle" fill="#686868">4月</text>
<text class="ct" x="371.96" y="943.2" font-size="7.0" text-anchor="middle" fill="#686868">5月</text>
<text class="ct" x="418.04" y="943.2" font-size="7.0" text-anchor="middle" fill="#686868">6月</text>
<text class="ct" x="464.12" y="943.2" font-size="7.0" text-anchor="middle" fill="#686868">7月</text>
<text class="ct" x="510.20" y="943.2" font-size="7.0" text-anchor="middle" fill="#686868">8月</text>
<text class="ct" x="556.28" y="943.2" font-size="7.0" text-anchor="middle" fill="#686868">9月</text>
<text class="ct" x="602.36" y="943.2" font-size="7.0" text-anchor="middle" fill="#686868">10月</text>
<text class="ct" x="648.44" y="943.2" font-size="7.0" text-anchor="middle" fill="#686868">11月</text>
<text class="ct" x="694.52" y="943.2" font-size="7.0" text-anchor="middle" fill="#686868">12月</text>
<text class="ct" x="160.30" y="929.52" font-size="7.0" text-anchor="end" fill="#686868">0</text>
<text class="ct" x="160.30" y="885.87" font-size="7.0" text-anchor="end" fill="#686868">50</text>
<text class="ct" x="160.30" y="837.62" font-size="7.0" text-anchor="end" fill="#686868">100</text>
<text class="ct" x="160.30" y="789.37" font-size="7.0" text-anchor="end" fill="#686868">150</text>
<text class="ct" x="160.30" y="746.12" font-size="7.0" text-anchor="end" fill="#686868">200</text>
<text class="ct" x="722.80" y="929.52" font-size="7.0" text-anchor="start" fill="#686868">0</text>
<text class="ct" x="722.80" y="895.52" font-size="7.0" text-anchor="start" fill="#686868">5000</text>
<text class="ct" x="722.80" y="856.92" font-size="7.0" text-anchor="start" fill="#686868">10000</text>
<text class="ct" x="722.80" y="818.32" font-size="7.0" text-anchor="start" fill="#686868">15000</text>
<text class="ct" x="722.80" y="779.72" font-size="7.0" text-anchor="start" fill="#686868">20000</text>
<text class="ct" x="722.80" y="746.12" font-size="7.0" text-anchor="start" fill="#686868">25000</text>
<text class="ct" x="164.10" y="733.80" font-size="7.0" text-anchor="middle" fill="#3f8fc6">基金募集数(个)</text>
<text class="ct" x="718.50" y="733.80" font-size="7.0" text-anchor="middle" fill="#3f8fc6">基金募集总额(US $M)</text>
<rect x="265.0" y="707.5" width="11.4" height="5.8" rx="1" fill="#5ec2c8"/>
<text class="ct" x="279.2" y="712.92" font-size="7.0" fill="#505050">当前年度基金募集金额</text>
<line x1="353.9" y1="710.4" x2="364.3" y2="710.4" stroke="#b1abc9" stroke-width="1"/>
<circle cx="359.1" cy="710.4" r="1.8" fill="#fff" stroke="#b1abc9" stroke-width="0.9"/>
<text class="ct" x="368.7" y="712.92" font-size="7.0" fill="#505050">当前年度基金募集数量</text>
<rect x="443.0" y="707.5" width="11.3" height="5.8" rx="1" fill="#6aabea"/>
<text class="ct" x="458.2" y="712.92" font-size="7.0" fill="#505050">上一年度基金募集金额</text>
<line x1="532.0" y1="710.4" x2="542.8" y2="710.4" stroke="#edcdae" stroke-width="1"/>
<circle cx="537.4" cy="710.4" r="1.8" fill="#fff" stroke="#edcdae" stroke-width="0.9"/>
<text class="ct" x="547.2" y="712.92" font-size="7.0" fill="#505050">上一年度基金募集数量</text>
</g>
<g filter="url(#b2)">
<text class="tt" y="35.8"><tspan x="285.8">图</tspan><tspan x="304.0">1</tspan><tspan x="312.9">：</tspan><tspan x="326.8" letter-spacing="0.10">2016</tspan><tspan x="358.6">年</tspan><tspan x="377.8" letter-spacing="0.20">10</tspan><tspan x="395.3">月至</tspan><tspan x="425.5" letter-spacing="0.30">2017</tspan><tspan x="457.7">年</tspan><tspan x="475.6">9</tspan><tspan x="486.2">月基金新募资情况月度走势图</tspan></text>
<text class="tt" y="363.9"><tspan x="278.4">图</tspan><tspan x="296.8">2</tspan><tspan x="305.9">：</tspan><tspan x="319.1" letter-spacing="0.10">2016</tspan><tspan x="351.4">年</tspan><tspan x="370.4" letter-spacing="0.20">10</tspan><tspan x="387.6">月至</tspan><tspan x="418.3" letter-spacing="0.30">2017</tspan><tspan x="450.0">年</tspan><tspan x="468.0">9</tspan><tspan x="478.4" letter-spacing="-0.05">月基金设立情况月度走势图</tspan></text>
<rect x="646.9" y="350.6" width="1.8" height="17.8" fill="#111"/>
<text class="tt" y="689.1"><tspan x="281.5">图</tspan><tspan x="300.0">3</tspan><tspan x="308.4">：</tspan><tspan x="322.5" letter-spacing="0.10">2016</tspan><tspan x="354.3">年</tspan><tspan x="373.2">1</tspan><tspan x="384.2">月至</tspan><tspan x="415.3" letter-spacing="0.30">2017</tspan><tspan x="448.0">年</tspan><tspan x="464.4">9</tspan><tspan x="474.5">月基金募集情况年度同比图</tspan></text>
<text x="125.4" y="319.5" class="ft"><tspan class="fc">来源：私募通</tspan><tspan class="fl" x="208.8">2017.10</tspan></text><text x="625.2" y="319.5" class="fw">www.pedata.cn</text>
<text x="125.4" y="646.6" class="ft"><tspan class="fc">来源：私募通</tspan><tspan class="fl" x="208.8">2017.10</tspan></text><text x="625.2" y="646.6" class="fw">www.pedata.cn</text>
<text x="128.4" y="972.3" class="ft"><tspan class="fc">来源：私募通</tspan><tspan class="fl" x="211.8">2017.10</tspan></text><text x="628.2" y="972.3" class="fw">www.pedata.cn</text>
</g>
</svg>
</body></html>
